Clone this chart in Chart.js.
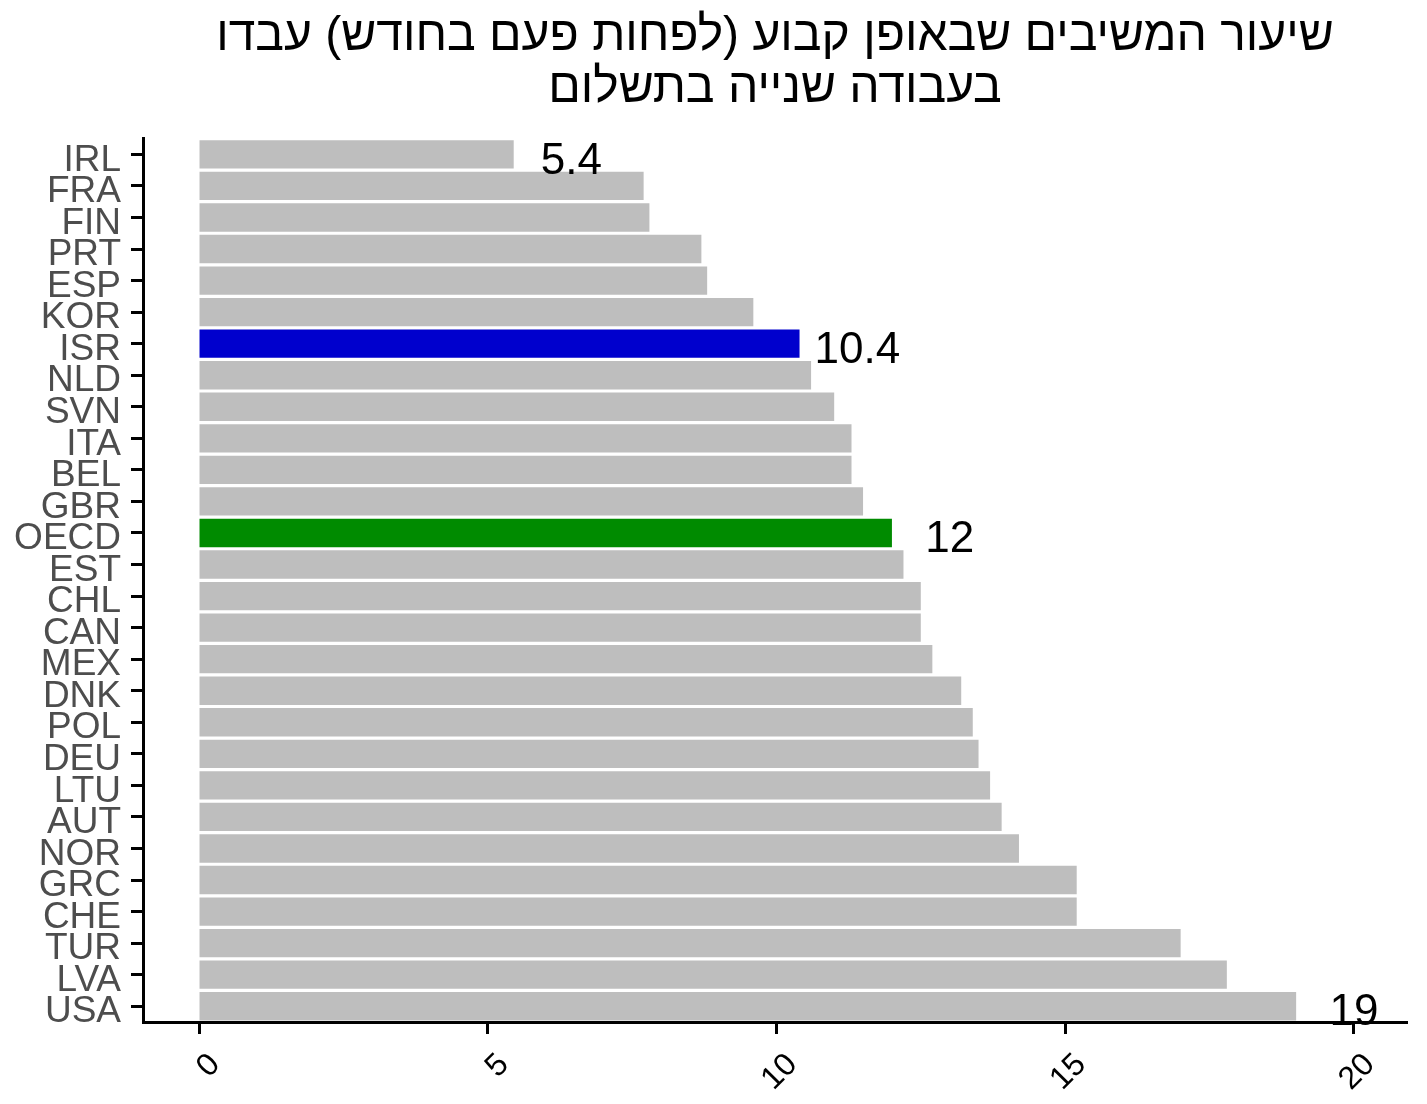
<!DOCTYPE html>
<html lang="he">
<head>
<meta charset="utf-8">
<title>עבודה שנייה בתשלום</title>
<script src="https://cdn.jsdelivr.net/npm/chart.js@4"></script>
<style>
  html, body { margin: 0; padding: 0; background: #fff; }
  #wrap { width: 1427px; height: 1104px; }
</style>
</head>
<body>
<div id="wrap"><canvas id="myChart" width="1427" height="1104"></canvas></div>
<script>
const countries = ['IRL', 'FRA', 'FIN', 'PRT', 'ESP', 'KOR', 'ISR', 'NLD', 'SVN', 'ITA',
  'BEL', 'GBR', 'OECD', 'EST', 'CHL', 'CAN', 'MEX', 'DNK', 'POL', 'DEU',
  'LTU', 'AUT', 'NOR', 'GRC', 'CHE', 'TUR', 'LVA', 'USA'];
const shares = [5.45, 7.7, 7.8, 8.7, 8.8, 9.6, 10.4, 10.6, 11.0, 11.3,
  11.3, 11.5, 12.0, 12.2, 12.5, 12.5, 12.7, 13.2, 13.4, 13.5,
  13.7, 13.9, 14.2, 15.2, 15.2, 17.0, 17.8, 19.0];
const valueLabels = ['5.4', '', '', '', '', '', '10.4', '', '', '',
  '', '', '12', '', '', '', '', '', '', '',
  '', '', '', '', '', '', '', '19'];
const xTicks = [0, 5, 10, 15, 20];
const titleLines = ['שיעור המשיבים שבאופן קבוע (לפחות פעם בחודש) עבדו', 'בעבודה שנייה בתשלום'];

const GREY = '#bebebe';
const BLUE = '#0000cd';
const GREEN = '#008b00';

function barColor(name) {
  if (name === 'ISR') return BLUE;
  if (name === 'OECD') return GREEN;
  return GREY;
}

// numbers next to a few bars, nudged one unit to the right
const valueLabelPlugin = {
  id: 'valueLabels',
  afterDatasetsDraw(chart) {
    const { ctx } = chart;
    const xScale = chart.scales.x;
    const yScale = chart.scales.y;
    ctx.save();
    ctx.font = '44px "Liberation Sans", Arial, sans-serif';
    ctx.fillStyle = '#000';
    ctx.textAlign = 'center';
    ctx.textBaseline = 'middle';
    valueLabels.forEach((txt, i) => {
      if (!txt) return;
      const x = xScale.getPixelForValue(shares[i] + 1);
      const y = yScale.getPixelForValue(i) + 7;
      ctx.fillText(txt, x, y);
    });
    ctx.restore();
  },
};

const chart = new Chart(document.getElementById('myChart').getContext('2d'), {
  type: 'bar',
  data: {
    labels: countries,
    datasets: [{
      data: shares,
      backgroundColor: countries.map(barColor),
      borderWidth: 0,
      barPercentage: 0.9,
      categoryPercentage: 1,
    }],
  },
  options: {
    indexAxis: 'y',
    responsive: false,
    animation: false,
    layout: { padding: { top: 0, right: 20, bottom: 0, left: 0 } },
    plugins: {
      legend: { display: false },
      tooltip: { enabled: false },
      title: {
        display: true,
        fullSize: false,
        text: titleLines,
        color: '#000',
        font: { family: '"Liberation Sans Narrow", "Liberation Sans", Arial, sans-serif', size: 48, weight: 'normal', lineHeight: 1.1 },
        padding: { top: 10, bottom: 23 },
      },
    },
    scales: {
      x: {
        type: 'linear',
        min: -0.97,
        max: 20.92,
        afterBuildTicks: (scale) => {
          scale.ticks = xTicks.map((v) => ({ value: v }));
        },
        afterFit: (scale) => { scale.height = 82; },
        border: { display: true, color: '#000', width: 3 },
        grid: { drawOnChartArea: false, drawTicks: true, tickLength: 12, tickWidth: 3, tickColor: '#000' },
        ticks: {
          color: '#000',
          font: { family: '"Liberation Sans", Arial, sans-serif', size: 32 },
          minRotation: 45,
          maxRotation: 45,
          autoSkip: false,
          labelOffset: 16,
          padding: 12,
        },
      },
      y: {
        type: 'category',
        afterFit: (scale) => { scale.width = 143; },
        border: { display: true, color: '#000', width: 3 },
        grid: { offset: false, drawOnChartArea: false, drawTicks: true, tickLength: 12, tickWidth: 3, tickColor: '#000' },
        ticks: {
          color: '#4d4d4d',
          font: { family: '"Liberation Sans", Arial, sans-serif', size: 37 },
          autoSkip: false,
          labelOffset: 6,
          padding: 10,
        },
      },
    },
  },
  plugins: [valueLabelPlugin],
});
</script>
</body>
</html>
